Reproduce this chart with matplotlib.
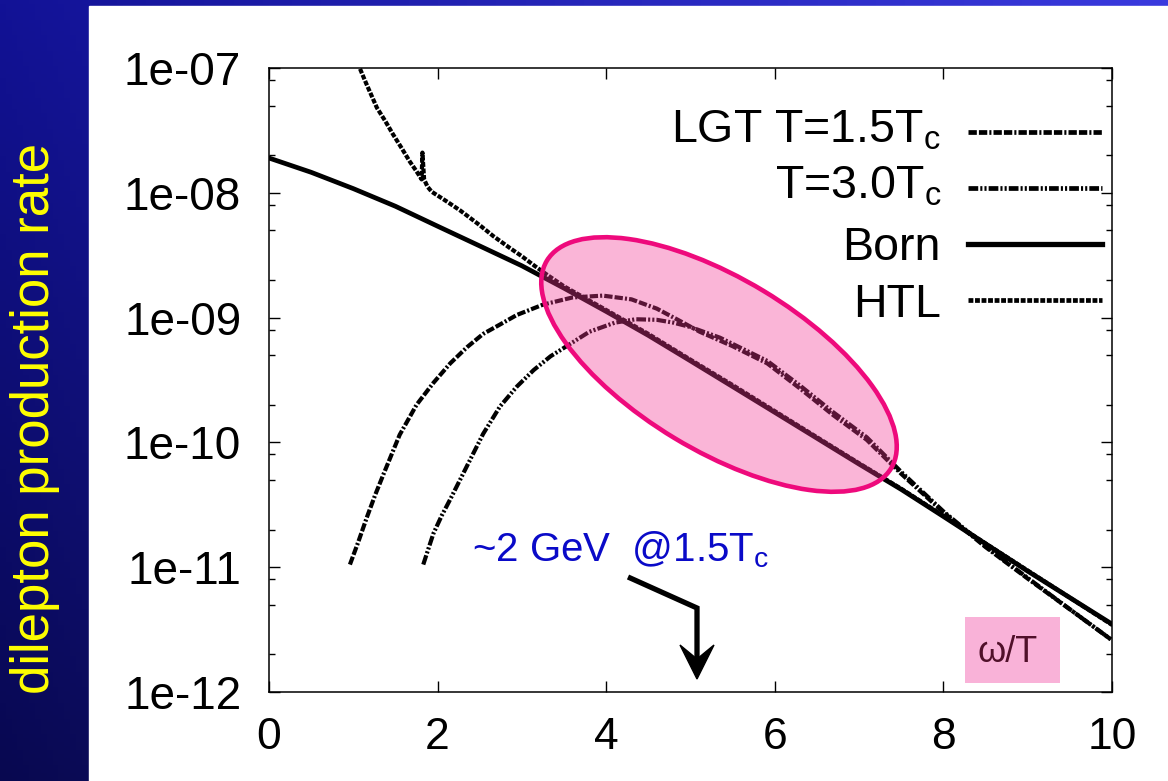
import numpy as np
import matplotlib
matplotlib.use("Agg")
import matplotlib.pyplot as plt
from matplotlib.patches import Ellipse, Rectangle, Polygon
from matplotlib.ticker import LogLocator, NullFormatter, FixedLocator, FixedFormatter

plt.rcParams['font.family'] = ['Liberation Sans', 'DejaVu Sans']
plt.rcParams['mathtext.fontset'] = 'custom'
plt.rcParams['mathtext.rm'] = 'Liberation Sans'
plt.rcParams['lines.scale_dashes'] = False

# ── data ────────────────────────────────────────────────────────
omega_born = [0.0, 0.5, 1.0, 1.5, 2.0, 2.5, 3.0, 3.5, 4.0, 4.5, 5.0,
              5.5, 6.0, 6.5, 7.0, 7.5, 8.0, 8.5, 9.0, 9.5, 10.0]
rate_born = [1.9e-8, 1.46e-8, 1.08e-8, 7.8e-9, 5.4e-9, 3.75e-9, 2.6e-9,
             1.72e-9, 1.12e-9, 7.2e-10, 4.5e-10, 2.8e-10, 1.74e-10,
             1.08e-10, 6.7e-11, 4.2e-11, 2.55e-11, 1.54e-11, 9.3e-12,
             5.7e-12, 3.5e-12]

omega_htl = [1.05, 1.15, 1.28, 1.38, 1.47, 1.57, 1.67, 1.74, 1.79, 1.81,
             1.82, 1.84, 1.88, 1.93, 2.1, 2.27, 2.5, 2.66, 2.86, 3.0, 3.15,
             3.3, 3.5, 4.0, 4.5, 5.0, 5.5, 6.0, 6.5, 7.0, 7.5, 8.0, 8.5,
             9.0, 9.5, 10.0]
rate_htl = [1.1e-7, 7.6e-8, 4.8e-8, 3.75e-8, 2.95e-8, 2.3e-8, 1.78e-8,
            1.52e-8, 1.35e-8, 1.28e-8, 2.1e-8, 1.28e-8, 1.12e-8, 1.02e-8,
            8.6e-9, 7.2e-9, 5.5e-9, 4.5e-9, 3.6e-9, 3.1e-9, 2.6e-9, 2.2e-9,
            1.78e-9, 1.15e-9, 7.4e-10, 4.6e-10, 2.88e-10, 1.78e-10, 1.1e-10,
            6.8e-11, 4.25e-11, 2.58e-11, 1.55e-11, 9.4e-12, 5.7e-12,
            3.45e-12]

omega_lgt15 = [0.96, 1.06, 1.16, 1.26, 1.36, 1.55, 1.75, 1.95, 2.15, 2.35,
               2.54, 2.74, 2.94, 3.25, 3.6, 3.96, 4.3, 4.6, 4.85, 5.11, 5.5,
               5.91, 6.3, 6.69, 7.09, 7.5, 8.0, 8.5, 9.0, 9.5, 10.0]
rate_lgt15 = [1.05e-11, 1.6e-11, 2.5e-11, 3.8e-11, 5.6e-11, 1.15e-10,
              2.0e-10, 3.0e-10, 4.3e-10, 5.8e-10, 7.4e-10, 8.8e-10, 1.05e-9,
              1.27e-9, 1.45e-9, 1.5e-9, 1.4e-9, 1.18e-9, 9.6e-10, 7.7e-10,
              5.9e-10, 4.3e-10, 2.7e-10, 1.66e-10, 1.05e-10, 5.6e-11,
              2.75e-11, 1.45e-11, 8.1e-12, 4.6e-12, 2.6e-12]

omega_lgt30 = [1.83, 1.89, 1.95, 2.05, 2.15, 2.35, 2.54, 2.74, 2.94, 3.14,
               3.34, 3.53, 3.8, 4.1, 4.35, 4.6, 4.8, 5.0, 5.35, 5.91, 6.3,
               6.69, 7.09, 7.5, 8.0, 8.5, 9.0, 9.5, 10.0]
rate_lgt30 = [1.05e-11, 1.4e-11, 1.86e-11, 2.6e-11, 3.5e-11, 6.5e-11,
              1.17e-10, 1.94e-10, 2.8e-10, 3.8e-10, 4.9e-10, 5.9e-10,
              7.7e-10, 9.1e-10, 9.7e-10, 9.6e-10, 9.1e-10, 8.4e-10, 6.9e-10,
              4.5e-10, 2.85e-10, 1.75e-10, 1.1e-10, 5.8e-11, 2.8e-11,
              1.47e-11, 8.2e-12, 4.6e-12, 2.6e-12]

x_ticks = [0, 2, 4, 6, 8, 10]
y_ticks = [1e-12, 1e-11, 1e-10, 1e-9, 1e-8, 1e-7]
y_ticklabels = ['1e-12', '1e-11', '1e-10', '1e-09', '1e-08', '1e-07']

series = [
    (r'LGT T=1.5T$_{\rm c}$', omega_lgt15, rate_lgt15, (0, (6, 1.5, 6, 1.5, 1.5, 1.5)), 3.0),
    (r'T=3.0T$_{\rm c}$', omega_lgt30, rate_lgt30, (0, (7, 1.5, 1.5, 1.5, 1.5, 1.5)), 3.0),
    ('Born', omega_born, rate_born, '-', 3.4),
    ('HTL', omega_htl, rate_htl, (0, (3.5, 1.2)), 3.0),
]

W, H = 1168, 781
fig = plt.figure(figsize=(W / 100, H / 100), dpi=100)

# ── slide background: blue gradient + white panel ───────────────
bg = fig.add_axes([0, 0, 1, 1], zorder=0)
U, V = np.meshgrid(np.linspace(0, 1, 200), np.linspace(0, 1, 200))
tl = np.array([18, 18, 150.])
tr = np.array([58, 58, 222.])
bl = np.array([8, 8, 80.])
img = tl + (tr - tl) * U[..., None] + (bl - tl) * V[..., None]
bg.imshow(np.clip(img / 255, 0, 1), extent=[0, W, H, 0], aspect='auto')
bg.add_patch(Rectangle((89, 6), W - 89, H - 6, color='white'))
bg.set_xlim(0, W)
bg.set_ylim(H, 0)
bg.axis('off')

# ── main plot ───────────────────────────────────────────────────
L, R, T, B = 269, 1112, 68, 692
ax = fig.add_axes([L / W, 1 - B / H, (R - L) / W, (B - T) / H], zorder=1)
ax.set_facecolor('white')
for label, xs, ys, ls, lw in series:
    ax.plot(xs, ys, color='black', linestyle=ls, lw=lw)

ax.set_yscale('log')
ax.set_xlim(0, 10)
ax.set_ylim(1e-12, 1e-7)
ax.set_xticks(x_ticks)
ax.yaxis.set_major_locator(FixedLocator(y_ticks))
ax.yaxis.set_major_formatter(FixedFormatter(y_ticklabels))
ax.yaxis.set_minor_locator(LogLocator(base=10, subs=[2, 5, 8]))
ax.yaxis.set_minor_formatter(NullFormatter())
ax.tick_params(which='both', direction='in', top=True, right=True, width=1)
ax.tick_params(which='major', length=8)
ax.tick_params(which='minor', length=4.5)
ax.tick_params(axis='y', labelsize=33, pad=20)
ax.tick_params(axis='x', labelsize=32, pad=18)
for s in ax.spines.values():
    s.set_linewidth(1.1)

# ── overlay in pixel coordinates (legend, highlight, notes) ─────
ov = fig.add_axes([0, 0, 1, 1], zorder=2)
ov.set_xlim(0, W)
ov.set_ylim(H, 0)
ov.axis('off')
ov.patch.set_alpha(0)

leg_y = [132, 188, 244, 300]
leg_base = [143, 198, 260, 317]
for (label, xs, ys, ls, lw), ly, lb in zip(series, leg_y, leg_base):
    ov.plot([968, 1102], [ly, ly], color='black', linestyle=ls, lw=lw + 0.4)
    ov.text(941, lb, label, ha='right', va='baseline', fontsize=33.5,
            color='black')

# pink highlight ellipse
ov.add_patch(Ellipse((719, 364.5), 402, 172, angle=31.1,
                     facecolor=(0.95, 0.22, 0.58, 0.37), edgecolor='none'))
ov.add_patch(Ellipse((719, 364.5), 402, 172, angle=31.1,
                     facecolor='none', edgecolor='#EE0A7C', lw=3.3))

# annotation with bent arrow
ov.text(472, 561, r'~2 GeV  @1.5T$_{\rm c}$', color='#0A0AC8', fontsize=29,
        ha='left', va='baseline')
ov.plot([628, 697, 697], [577, 608, 662], color='black', lw=3.8,
        solid_capstyle='butt', solid_joinstyle='miter')
ov.add_patch(Polygon([(697, 679), (680, 645), (697, 659), (714, 645)],
                     closed=True, facecolor='black', edgecolor='black', lw=1))

# axis label box
ov.add_patch(Rectangle((965, 617), 95, 66, facecolor='#F9B2D8',
                       edgecolor='none'))
ov.text(1008, 652, 'ω/T', color='#50102A', fontsize=26, ha='center',
        va='center')

fig.text(35 / W, 1 - 418 / H, 'dilepton production rate', rotation=90,
         color='#FFFF00', fontsize=38, ha='center', va='center')

fig.savefig('out.png', dpi=100)
